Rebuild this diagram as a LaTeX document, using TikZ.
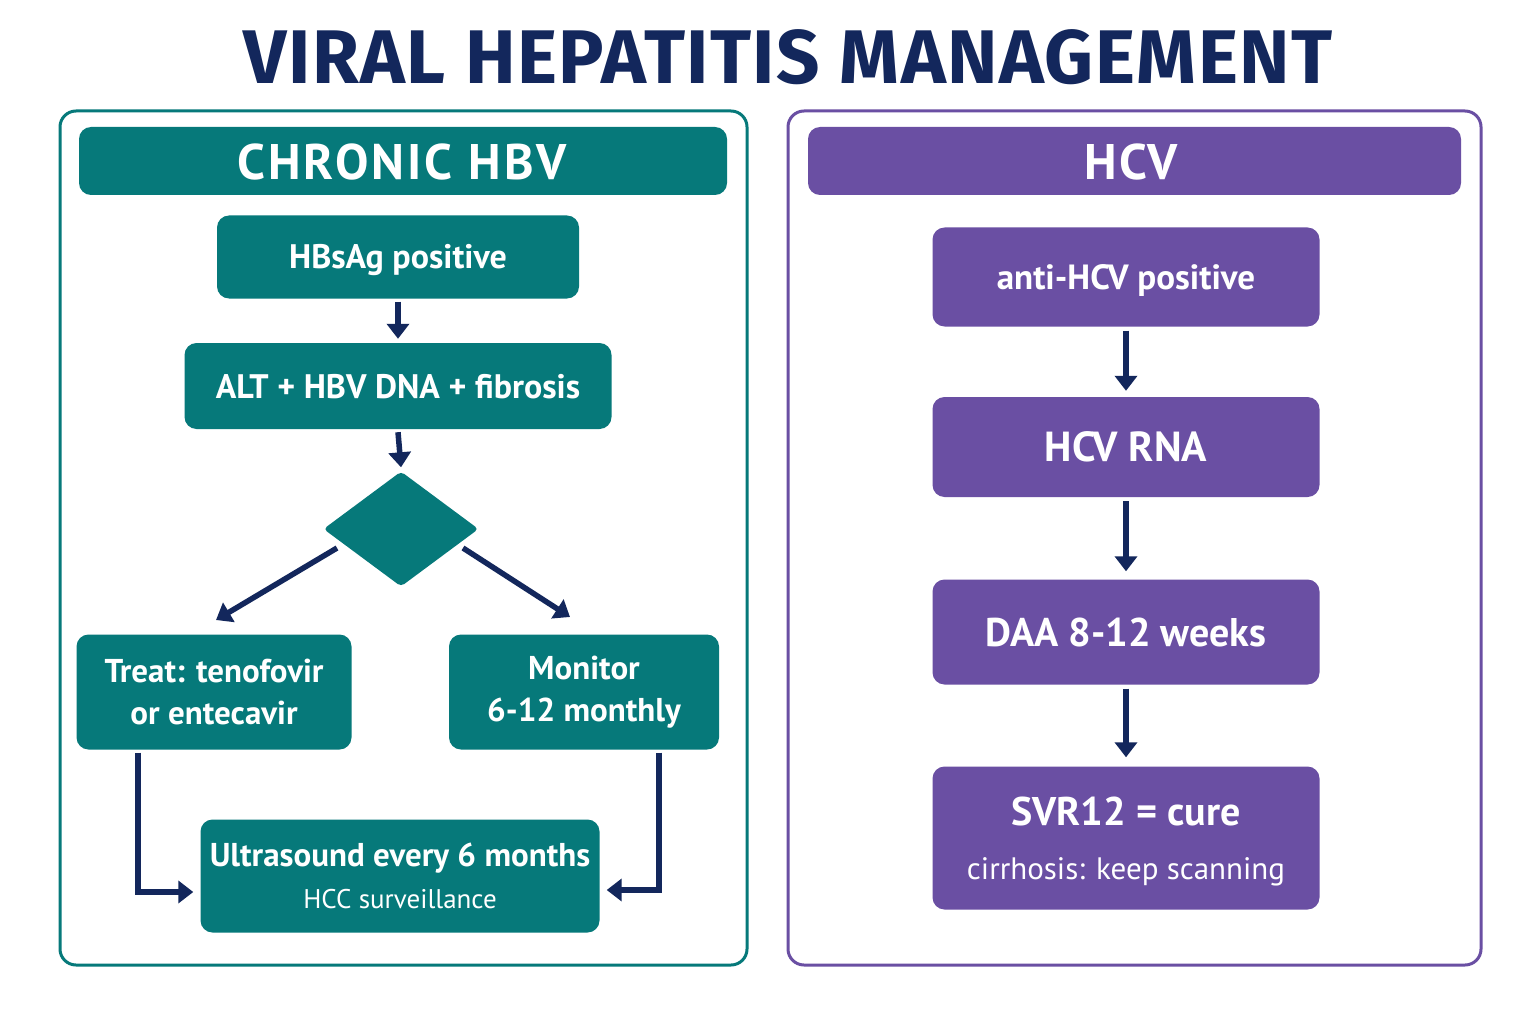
\documentclass[tikz,border=0pt]{standalone}
\usepackage{fontspec}
\setmainfont{PT Sans}
\newfontfamily\titlefont{Fira Sans}
\usetikzlibrary{arrows.meta,shapes.geometric}
\definecolor{teal1}{HTML}{06797A}
\definecolor{purp}{HTML}{6A4FA3}
\definecolor{navy}{HTML}{13275C}
\begin{document}
\begin{tikzpicture}[x=1pt,y=-1pt,
  panel/.style={draw, line width=3pt, rounded corners=16pt},
  hbox/.style={rounded corners=12pt, text=white, font=\bfseries, align=center, inner sep=0pt},
  capc/.style={text height=#1, text depth=0pt},
  arr/.style={draw=navy, line width=5.5pt, -{Triangle[length=15pt,width=22pt]}},
]
\useasboundingbox (0,0) rectangle (1536,1024);
\fill[white] (0,0) rectangle (1536,1024);
% title
\node[text=navy, font=\titlefont\bfseries\fontsize{76}{84}\selectfont\addfontfeatures{LetterSpace=2}] (title) at (788,57) {VIRAL HEPATITIS MANAGEMENT};
% panels
\draw[panel, teal1] (60,111) rectangle (747,965);
\draw[panel, purp] (788,111) rectangle (1481,965);
% headers
\fill[teal1, rounded corners=12pt] (79,127) rectangle (727,195);
\node[text=white, font=\bfseries\fontsize{50}{56}\selectfont\addfontfeatures{LetterSpace=6}] (hbvh) at (402,162) {CHRONIC HBV};
\fill[purp, rounded corners=12pt] (808,127) rectangle (1461,195);
\node[text=white, font=\bfseries\fontsize{50}{56}\selectfont\addfontfeatures{LetterSpace=6}] (hcvh) at (1131,162) {HCV};
% left nodes
\node[hbox, capc=24pt, fill=teal1, minimum width=362pt, minimum height=83pt, font=\bfseries\fontsize{34}{40}\selectfont] (a) at (398,257) {HBsAg positive};
\node[hbox, capc=24pt, fill=teal1, minimum width=427pt, minimum height=86pt, font=\bfseries\fontsize{34}{40}\selectfont] (b) at (398,386) {ALT + HBV DNA + fibrosis};
\node[diamond, fill=teal1, minimum width=155pt, minimum height=115pt, inner sep=0pt, rounded corners=4pt] (d) at (401,529) {};
\node[hbox, fill=teal1, minimum width=275pt, minimum height=115pt, font=\bfseries\fontsize{33}{42}\selectfont] (t) at (214,692) {Treat: tenofovir\\or entecavir};
\node[hbox, fill=teal1, minimum width=270pt, minimum height=115pt, font=\bfseries\fontsize{33}{42}\selectfont] (m) at (584,692) {Monitor\\6-12 monthly};
\node[hbox, fill=teal1, minimum width=399pt, minimum height=113pt, font=\bfseries\fontsize{33}{42}\selectfont] (u) at (400,876) {Ultrasound every 6 months\\{\mdseries\fontsize{27}{42}\selectfont HCC surveillance}};
% left arrows
\draw[arr] ([yshift=-3pt]a.south) -- ([yshift=4pt]b.north);
\draw[arr] ([yshift=-3pt]b.south) -- ([yshift=4pt]d.north);
\coordinate (tl) at (216,620);
\coordinate (tr) at (570,617);
\draw[arr] (337,548) -- (tl);
\draw[arr] (463,548) -- (tr);
\draw[arr] ([xshift=-76pt,yshift=-3pt]t.south) |- ([xshift=-7pt,yshift=-16pt]u.west);
\draw[arr] ([xshift=75pt,yshift=-3pt]m.south) |- ([xshift=7pt,yshift=-14pt]u.east);
% right nodes
\node[hbox, capc=25pt, fill=purp, minimum width=387pt, minimum height=99pt, font=\bfseries\fontsize{35}{40}\selectfont] (p1) at (1126,277) {anti-HCV positive};
\node[hbox, fill=purp, minimum width=387pt, minimum height=100pt, font=\bfseries\fontsize{42}{48}\selectfont] (p2) at (1126,447) {HCV RNA};
\node[hbox, fill=purp, minimum width=387pt, minimum height=105pt, font=\bfseries\fontsize{40}{46}\selectfont] (p3) at (1126,632) {DAA 8-12 weeks};
\node[hbox, fill=purp, minimum width=387pt, minimum height=143pt, text depth=0pt, font=\bfseries\fontsize{40}{54}\selectfont] (p4) at (1126,838) {SVR12 = cure\\{\mdseries\fontsize{31}{54}\selectfont cirrhosis: keep scanning}};
\draw[arr] ([yshift=-4pt]p1.south) -- ([yshift=6pt]p2.north);
\draw[arr] ([yshift=-4pt]p2.south) -- ([yshift=8pt]p3.north);
\draw[arr] ([yshift=-4pt]p3.south) -- ([yshift=9pt]p4.north);
\end{tikzpicture}
\end{document}
